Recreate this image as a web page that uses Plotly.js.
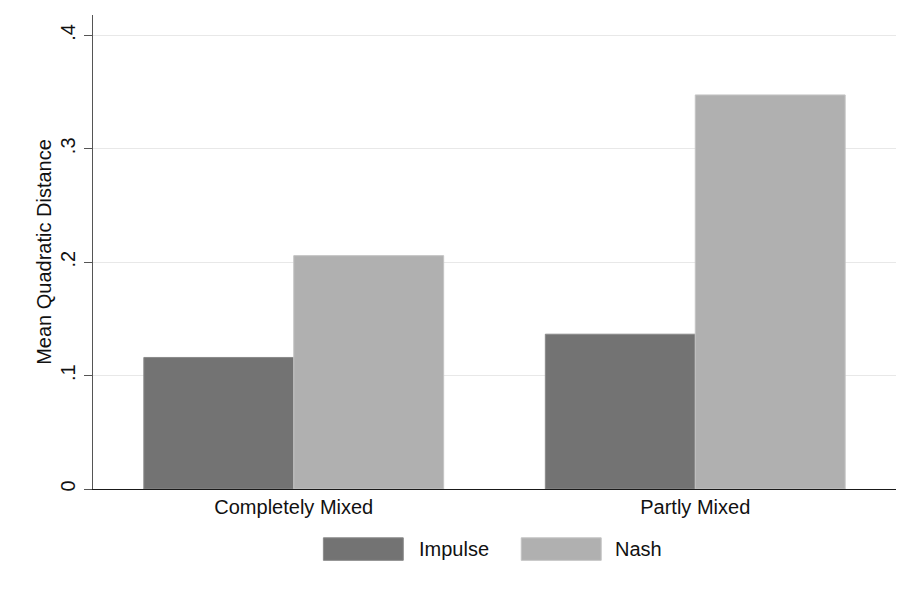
<!DOCTYPE html>
<html>
<head>
<meta charset="utf-8">
<script src="https://cdn.plot.ly/plotly-3.0.1.min.js"></script>
<style>
  html, body { margin: 0; padding: 0; background: #ffffff; }
  #chart { width: 902px; height: 592px; }
</style>
</head>
<body>
<div id="chart"></div>
<script>
// ---- data ----
const categories = ["Completely Mixed", "Partly Mixed"];
const impulseValues = [0.116, 0.1365];
const nashValues = [0.2058, 0.3475];
const seriesNames = ["Impulse", "Nash"];
const seriesColors = ["#737373", "#b0b0b0"];
const seriesLineColors = ["#8a8a8a", "#c4c4c4"];
const yTickVals = [0, 0.1, 0.2, 0.3, 0.4];
const yTickText = ["0", ".1", ".2", ".3", ".4"];
const yTitle = "Mean Quadratic Distance";

const FONT = "'Liberation Sans', Arial, Helvetica, sans-serif";
const FS = 20;

const seriesValues = [impulseValues, nashValues];
const traces = seriesNames.map((name, i) => ({
  type: "bar",
  name: name,
  x: categories,
  y: seriesValues[i],
  marker: { color: seriesColors[i], line: { color: seriesLineColors[i], width: 1 } },
  hoverinfo: "x+y+name",
  showlegend: false
}));

// custom legend (large swatches like the original)
const legendSwatchX = [[0.2869, 0.3864], [0.5333, 0.6329]];
const legendTextX = [0.4035, 0.6478];
const shapes = seriesNames.map((name, i) => ({
  type: "rect", xref: "paper", yref: "paper",
  x0: legendSwatchX[i][0], x1: legendSwatchX[i][1],
  y0: -0.1505, y1: -0.1030,
  fillcolor: seriesColors[i],
  line: { color: seriesLineColors[i], width: 1 }
}));
const annotations = seriesNames.map((name, i) => ({
  xref: "paper", yref: "paper",
  x: legendTextX[i], y: -0.1266,
  xanchor: "left", yanchor: "middle",
  text: name, showarrow: false,
  font: { family: FONT, size: FS, color: "#111111" }
}));

const layout = {
  width: 902, height: 592,
  margin: { l: 92.5, r: 6, t: 15, b: 103 },
  paper_bgcolor: "#ffffff",
  plot_bgcolor: "#ffffff",
  barmode: "group",
  bargap: 0.2532,
  bargroupgap: 0,
  showlegend: false,
  font: { family: FONT, size: FS, color: "#111111" },
  xaxis: {
    type: "category",
    range: [-0.5, 1.5],
    showgrid: false,
    showline: true, linecolor: "#1a1a1a", linewidth: 1.3,
    ticks: "", ticklabelstandoff: 0,
    tickfont: { family: FONT, size: FS, color: "#111111" },
    zeroline: false, fixedrange: true
  },
  yaxis: {
    range: [0, 0.418],
    tickvals: yTickVals, ticktext: yTickText,
    tickangle: -90,
    ticks: "outside", ticklen: 8, tickwidth: 1, tickcolor: "#555555",
    ticklabelstandoff: 1,
    showline: true, linecolor: "#555555", linewidth: 1,
    showgrid: true, gridcolor: "#e8e8e8", gridwidth: 1,
    zeroline: false,
    tickfont: { family: FONT, size: FS, color: "#111111" },
    title: { text: yTitle, standoff: 0, font: { family: FONT, size: FS, color: "#111111" } },
    fixedrange: true
  },
  shapes: shapes,
  annotations: annotations
};

Plotly.newPlot("chart", traces, layout, { displayModeBar: false, staticPlot: true });
</script>
</body>
</html>
